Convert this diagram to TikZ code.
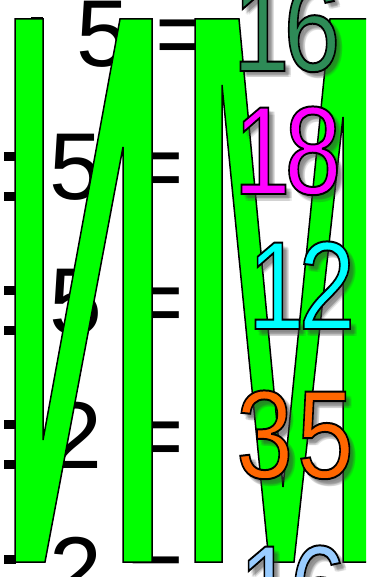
\documentclass[tikz,border=0pt]{standalone}
\usepackage{fontspec}
\setmainfont{Liberation Sans}
\usepackage{graphicx}
\usepackage{xcolor}
\definecolor{lettergreen}{HTML}{00FF00}
\definecolor{seagreen}{HTML}{2E8B57}
\definecolor{puremagenta}{HTML}{FF00FF}
\definecolor{purecyan}{HTML}{00FFFF}
\definecolor{deeporange}{HTML}{FF6600}
\definecolor{skyblue}{HTML}{99CCFF}
% fill and stroke the glyphs: black outline round the coloured digits
\newcommand\outlined[1]{\special{pdf:literal direct 0 G 1.6 w 2 Tr}#1\special{pdf:literal direct 0 Tr}}
\newcommand\resultnum[4]{% name, where, colour, digits
  \foreach \dx/\dy in {3/3,5/5,7/7,4/6,6/4,5/7,7/5}
    \node[res, text=black!75, text opacity=0.12, xshift=\dx pt, yshift=-\dy pt] (#1s\dx\dy) at (#2) {\scalebox{1}[1.23]{#4}};
  \node[res, text=#3] (#1) at (#2) {\scalebox{1}[1.23]{\outlined{#4}}};}

\begin{document}
\begin{tikzpicture}[x=1pt, y=-1pt,
  sum/.style={font=\fontsize{95}{95}\selectfont, inner sep=0pt, anchor=base west},
  res/.style={font=\fontsize{102}{102}\selectfont, inner sep=0pt, anchor=base},
  letter/.style={fill=lettergreen, draw=black, line width=1.5pt}]
\fill[white] (0,0) rectangle (366,577);
\clip (0,0) rectangle (366,577);
% the sums behind the letters
\node[sum] (sum1) at (76,67) {5 =};
\node[sum] (sum2) at (49,200) {5 =};
\node[sum] (sum3) at (49,334) {5 =};
\node[sum] (sum4) at (49,468) {2 =};
\node[sum] (sum5) at (49,603) {2 =};
\foreach \x/\b in {31/65,4/200,4/334,4/468,4/603} {
  \fill (\x,\b-48) rectangle ++(12,9);
  \fill (\x,\b-8) rectangle ++(12,9);
}
% the two green letters
\draw[letter] (15,19) -- (43,19) -- (43,440) -- (120,19) -- (152,19) -- (152,562) -- (123,562)
  -- (123,147) -- (45,562) -- (15,562) -- cycle;
\draw[letter] (195,19) -- (239,19) -- (283,487) -- (330,19) -- (380,19) -- (380,562) -- (343,562)
  -- (343,117) -- (294,562) -- (269,562) -- (222,85) -- (222,562) -- (195,562) -- cycle;
% results in front
\resultnum{res1}{286.5,71}{seagreen}{1\kern-6pt6}
\resultnum{res2}{287.5,194}{puremagenta}{1\kern-6pt8}
\resultnum{res3}{301.5,329}{purecyan}{1\kern-6pt2}
\resultnum{res4}{295,478}{deeporange}{3\kern4pt5}
\resultnum{res5}{292.5,633}{skyblue}{1\kern-6pt6}
\end{tikzpicture}
\end{document}
